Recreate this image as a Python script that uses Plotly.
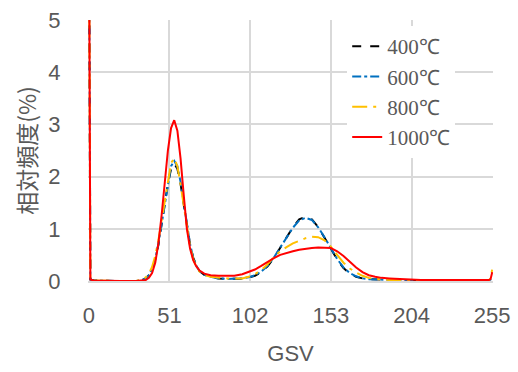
import plotly.graph_objects as go

# GSV sample positions
gsv = [0, 1, 3, 10, 20, 30, 34, 36, 38, 40, 42, 44, 46, 48, 50, 52, 54, 56, 58, 60,
       62, 64, 66, 68, 70, 73, 77, 82, 88, 92, 97, 101, 105, 109, 113, 117, 121, 125,
       129, 133, 137, 141, 145, 149, 153, 157, 161, 165, 169, 173, 177, 181, 185, 190,
       200, 210, 220, 230, 240, 250, 253, 254, 255]

# relative frequency (%) per temperature
f400 = [8, 0.03, 0.01, 0.0, 0.0, 0.0, 0.02, 0.05, 0.11, 0.22, 0.41, 0.69, 1.05, 1.47, 1.86, 2.15, 2.25, 2.15, 1.86, 1.47,
        1.05, 0.70, 0.45, 0.29, 0.19, 0.12, 0.08, 0.05, 0.04, 0.04, 0.045, 0.065, 0.10, 0.17, 0.28, 0.44, 0.63, 0.84,
        1.03, 1.18, 1.23, 1.18, 1.03, 0.83, 0.61, 0.41, 0.25, 0.14, 0.08, 0.05, 0.035, 0.03, 0.025, 0.02,
        0.01, 0.01, 0.01, 0.01, 0.01, 0.01, 0.01, 0.02, 0.05]
f600 = [8, 0.03, 0.01, 0.0, 0.0, 0.0, 0.02, 0.05, 0.11, 0.23, 0.42, 0.71, 1.08, 1.51, 1.91, 2.20, 2.30, 2.20, 1.90, 1.50,
        1.07, 0.71, 0.45, 0.29, 0.19, 0.12, 0.08, 0.05, 0.04, 0.04, 0.05, 0.07, 0.11, 0.18, 0.29, 0.45, 0.64, 0.84,
        1.02, 1.16, 1.21, 1.17, 1.03, 0.84, 0.62, 0.42, 0.26, 0.15, 0.09, 0.05, 0.035, 0.03, 0.025, 0.02,
        0.01, 0.01, 0.01, 0.01, 0.01, 0.01, 0.01, 0.03, 0.08]
f800 = [8, 0.03, 0.01, 0.0, 0.0, 0.0, 0.03, 0.07, 0.14, 0.27, 0.48, 0.78, 1.15, 1.57, 1.97, 2.26, 2.35, 2.20, 1.85, 1.42,
        1.00, 0.66, 0.42, 0.27, 0.18, 0.12, 0.08, 0.06, 0.05, 0.05, 0.05, 0.08, 0.13, 0.21, 0.32, 0.46, 0.57, 0.65,
        0.72, 0.77, 0.82, 0.85, 0.84, 0.78, 0.66, 0.50, 0.35, 0.24, 0.16, 0.10, 0.06, 0.04, 0.03, 0.02,
        0.02, 0.02, 0.02, 0.02, 0.02, 0.02, 0.02, 0.05, 0.23]
f1000 = [8, 0.03, 0.01, 0.0, 0.0, 0.0, 0.01, 0.02, 0.06, 0.15, 0.35, 0.72, 1.25, 1.90, 2.50, 2.93, 3.08, 2.88, 2.35, 1.65,
         1.00, 0.62, 0.40, 0.28, 0.20, 0.14, 0.11, 0.10, 0.10, 0.10, 0.13, 0.17, 0.22, 0.29, 0.37, 0.44, 0.50, 0.54,
         0.57, 0.60, 0.62, 0.63, 0.64, 0.64, 0.63, 0.57, 0.48, 0.37, 0.26, 0.17, 0.11, 0.08, 0.06, 0.05,
         0.03, 0.02, 0.02, 0.02, 0.02, 0.02, 0.02, 0.04, 0.17]

names = ["400℃", "600℃", "800℃", "1000℃"]
x_ticks = [0, 51, 102, 153, 204, 255]
y_ticks = [0, 1, 2, 3, 4, 5]

series = [f400, f600, f800, f1000]
colors = ["#000000", "#0070C0", "#FFC000", "#FF0000"]
dashes = ["dash", "dashdot", "longdashdot", "solid"]

fig = go.Figure()
for name, vals, c, d in zip(names, series, colors, dashes):
    fig.add_trace(go.Scatter(x=gsv, y=vals, mode="lines", name=name,
                             line=dict(color=c, dash=d, width=2)))

fig.update_layout(
    width=518, height=372,
    margin=dict(l=88, r=25, t=20, b=91),
    paper_bgcolor="white", plot_bgcolor="white",
    font=dict(family="Liberation Sans, Arial, sans-serif", color="#595959", size=22),
    showlegend=True,
    legend=dict(x=0.64, y=0.977, xanchor="left", yanchor="top",
                bgcolor="rgba(255,255,255,1)",
                font=dict(family="Liberation Serif, Times New Roman, serif", size=21, color="#595959"),
                tracegroupgap=0),
)
fig.update_xaxes(range=[-0.5, 255.5], tickvals=x_ticks, ticktext=[str(t) for t in x_ticks],
                 showgrid=True, gridcolor="#d9d9d9", gridwidth=1.5,
                 showline=True, linecolor="#d9d9d9", linewidth=1.5,
                 zeroline=False, ticks="outside", ticklen=14, tickcolor="rgba(0,0,0,0)",
                 automargin=False,
                 title=dict(text="GSV", font=dict(size=22), standoff=18))
fig.update_yaxes(range=[0, 5], tickvals=y_ticks,
                 showgrid=True, gridcolor="#d9d9d9", gridwidth=1.5,
                 showline=False, zeroline=False, ticks="outside", ticklen=22,
                 tickcolor="rgba(0,0,0,0)", automargin=False,
                 title=dict(text="相対頻度(%)", font=dict(size=23,
                            family="Noto Sans CJK JP, sans-serif"), standoff=5))

fig.write_html("out.html")
